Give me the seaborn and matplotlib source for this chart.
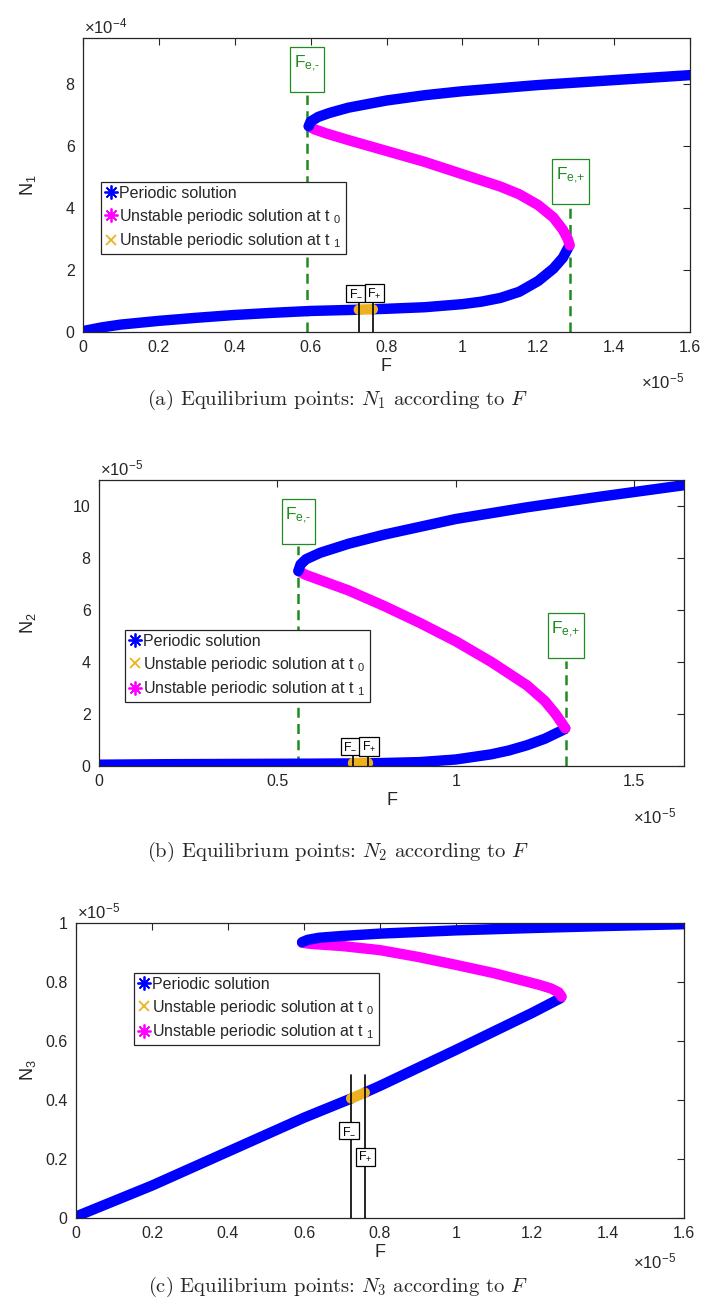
import numpy as np
import pandas as pd
import matplotlib
matplotlib.use("Agg")
import matplotlib.pyplot as plt
import seaborn as sns
from matplotlib.ticker import FuncFormatter, FixedLocator
from matplotlib.lines import Line2D

sns.set_style("white")
plt.rcParams['font.family'] = ['Liberation Sans', 'DejaVu Sans']
plt.rcParams['mathtext.fontset'] = 'custom'
plt.rcParams['mathtext.rm'] = 'Liberation Sans'
plt.rcParams['mathtext.it'] = 'Liberation Sans'

# ---------------- data ----------------
# Panel (a): N1 vs F   (F in 1e-5, N1 in 1e-4)
a_low_F = [0.0, 0.05, 0.1, 0.2, 0.3, 0.4, 0.5, 0.6, 0.727]
a_low_N = [0.03, 0.15, 0.24, 0.36, 0.46, 0.55, 0.62, 0.68, 0.72]
a_orange_F = [0.727, 0.745, 0.764]
a_orange_N = [0.72, 0.73, 0.735]
a_low2_F = [0.764, 0.8, 0.9, 1.0, 1.05, 1.1, 1.15, 1.2, 1.24, 1.265, 1.28]
a_low2_N = [0.735, 0.75, 0.8, 0.9, 0.98, 1.1, 1.3, 1.65, 2.05, 2.4, 2.75]
a_mid_F = [1.283, 1.278, 1.265, 1.24, 1.2, 1.15, 1.1, 1.0, 0.9, 0.8, 0.7, 0.64, 0.61, 0.595]
a_mid_N = [2.8, 3.0, 3.3, 3.7, 4.1, 4.45, 4.7, 5.1, 5.5, 5.85, 6.2, 6.42, 6.55, 6.65]
a_up_F = [0.595, 0.6, 0.62, 0.65, 0.7, 0.8, 0.9, 1.0, 1.2, 1.4, 1.6]
a_up_N = [6.65, 6.8, 6.95, 7.08, 7.25, 7.48, 7.65, 7.78, 7.98, 8.14, 8.3]
a_Fe = [0.59, 1.285]
a_Fpm = [0.727, 0.764]

# Panel (b): N2 vs F   (F in 1e-5, N2 in 1e-5)
b_low_F = [0.0, 0.2, 0.4, 0.6, 0.713]
b_low_N = [0.05, 0.07, 0.08, 0.09, 0.1]
b_orange_F = [0.713, 0.733, 0.753]
b_orange_N = [0.1, 0.1, 0.1]
b_low2_F = [0.753, 0.9, 1.0, 1.1, 1.15, 1.2, 1.25, 1.28, 1.3, 1.307]
b_low2_N = [0.1, 0.15, 0.25, 0.45, 0.6, 0.8, 1.05, 1.25, 1.38, 1.45]
b_mid_F = [1.307, 1.3, 1.28, 1.25, 1.2, 1.1, 1.0, 0.9, 0.8, 0.7, 0.62, 0.58, 0.559]
b_mid_N = [1.45, 1.6, 2.0, 2.5, 3.1, 4.0, 4.8, 5.5, 6.15, 6.75, 7.15, 7.35, 7.5]
b_up_F = [0.559, 0.565, 0.58, 0.62, 0.7, 0.8, 1.0, 1.2, 1.4, 1.64]
b_up_N = [7.5, 7.75, 7.95, 8.2, 8.55, 8.9, 9.5, 9.95, 10.35, 10.8]
b_Fe = [0.559, 1.309]
b_Fpm = [0.713, 0.753]

# Panel (c): N3 vs F   (F in 1e-5, N3 in 1e-5)
c_low_F = [0.0, 0.2, 0.4, 0.6, 0.724]
c_low_N = [0.005, 0.11, 0.225, 0.34, 0.405]
c_orange_F = [0.724, 0.742, 0.76]
c_orange_N = [0.405, 0.415, 0.425]
c_low2_F = [0.76, 0.8, 1.0, 1.2, 1.275]
c_low2_N = [0.425, 0.448, 0.57, 0.695, 0.745]
c_mid_F = [1.278, 1.27, 1.25, 1.22, 1.1, 1.0, 0.9, 0.8, 0.7, 0.62, 0.595]
c_mid_N = [0.75, 0.765, 0.778, 0.79, 0.83, 0.858, 0.885, 0.908, 0.922, 0.929, 0.933]
c_up_F = [0.595, 0.61, 0.64, 0.7, 0.8, 1.0, 1.2, 1.4, 1.6]
c_up_N = [0.935, 0.943, 0.95, 0.956, 0.964, 0.975, 0.983, 0.99, 0.996]
c_Fpm = [0.724, 0.76]

x_ticks_a = [0, 0.2, 0.4, 0.6, 0.8, 1.0, 1.2, 1.4, 1.6]
y_ticks_a = [0, 2, 4, 6, 8]
x_ticks_b = [0, 0.5, 1.0, 1.5]
y_ticks_b = [0, 2, 4, 6, 8, 10]
x_ticks_c = [0, 0.2, 0.4, 0.6, 0.8, 1.0, 1.2, 1.4, 1.6]
y_ticks_c = [0, 0.2, 0.4, 0.6, 0.8, 1.0]

captions = ["(a) Equilibrium points: $N_1$ according to $F$",
            "(b) Equilibrium points: $N_2$ according to $F$",
            "(c) Equilibrium points: $N_3$ according to $F$"]

BLUE = "#0000FF"
MAG = "#FF00FF"
ORANGE = "#EDB120"
GREEN = "#1E8C1E"
DARK = "#262626"
ASTER = (8, 2, 0)

W, H = 706, 1307
fig = plt.figure(figsize=(W / 100, H / 100), dpi=100)


def ax_at(l, r, t, b):
    return fig.add_axes([l / W, 1 - b / H, (r - l) / W, (b - t) / H])


def fmt(v, p):
    return "%g" % round(v, 6)


def style(ax, xt, yt, xlim, ylim, ylabel, ylab_x, pos):
    l, r, t, b = pos
    ax.set_xlim(*xlim)
    ax.set_ylim(*ylim)
    ax.xaxis.set_major_locator(FixedLocator(xt))
    ax.yaxis.set_major_locator(FixedLocator(yt))
    ax.xaxis.set_major_formatter(FuncFormatter(fmt))
    ax.yaxis.set_major_formatter(FuncFormatter(fmt))
    ax.tick_params(direction='in', top=True, right=True, length=5, width=0.8,
                   labelsize=11.5, colors=DARK, pad=6)
    for s in ax.spines.values():
        s.set_visible(True)
        s.set_color(DARK)
        s.set_linewidth(0.9)
    ax.set_xlabel("F", fontsize=13, color=DARK, labelpad=2)
    ax.set_ylabel(ylabel, fontsize=13, color=DARK)
    ax.yaxis.set_label_coords((ylab_x - l) / (r - l), 0.5)


def band(ax, F, N, color):
    df = pd.DataFrame({"F": F, "N": N})
    sns.lineplot(data=df, x="F", y="N", sort=False, estimator=None, color=color,
                 linewidth=7.5, ax=ax, solid_capstyle='round', legend=False)


def legend(ax, entries, x, y):
    handles = []
    for color, marker, label in entries:
        handles.append(Line2D([], [], linestyle='none', marker=ASTER if marker == '*' else 'x',
                              color=color, markersize=10 if marker == '*' else 7,
                              markeredgewidth=1.3, label=label))
    leg = ax.legend(handles=handles, loc='upper left',
                    bbox_to_anchor=(x / W, 1 - y / H), bbox_transform=fig.transFigure,
                    fontsize=11.5, frameon=True, fancybox=False, framealpha=1,
                    handlelength=0.7, handletextpad=0.2, borderpad=0.25,
                    labelspacing=0.35, borderaxespad=0)
    leg.get_frame().set_edgecolor(DARK)
    leg.get_frame().set_linewidth(0.9)


def fe_box(ax, F, y_line, y_box, label):
    ax.plot([F, F], [0, y_line], linestyle=(0, (4, 2.5)), color=GREEN, linewidth=1.8, zorder=1)
    ax.text(F, y_box, label + "\n ", color=GREEN, ha='center', va='center', fontsize=12.5,
            linespacing=0.95,
            bbox=dict(boxstyle='square,pad=0.2', fc='white', ec=GREEN, lw=0.9), zorder=6)


def fpm(ax, F, y0, y1, xb, y_box, label):
    ax.plot([F, F], [y0, y1], color='black', linewidth=1.2, zorder=5)
    ax.text(xb, y_box, label, color='black', ha='center', va='center', fontsize=9,
            bbox=dict(boxstyle='square,pad=0.2', fc='white', ec='black', lw=0.9), zorder=6)


def xmult(x, y, s):
    fig.text(x / W, 1 - y / H, r"$\times$10$^{%s}$" % s, fontsize=12, color=DARK,
             va='baseline')


label_p = "Periodic solution"
label_t0 = "Unstable periodic solution at t $_{0}$"
label_t1 = "Unstable periodic solution at t $_{1}$"
fe_minus = r"F$_{\text{e,-}}$"
fe_plus = r"F$_{\text{e,+}}$"

# ---------------- Panel (a) ----------------
pos = (83, 690, 38, 332)
ax = ax_at(*pos)
band(ax, a_low_F, a_low_N, BLUE)
band(ax, a_low2_F, a_low2_N, BLUE)
band(ax, a_mid_F, a_mid_N, MAG)
band(ax, a_up_F, a_up_N, BLUE)
band(ax, a_orange_F, a_orange_N, ORANGE)
fe_box(ax, a_Fe[0], 7.67, 8.43, fe_minus)
fe_box(ax, a_Fe[1], 4.1, 4.8, fe_plus)
fpm(ax, a_Fpm[0], 0, 1.0, a_Fpm[0] - 0.008, 1.25, "F$_{-}$")
fpm(ax, a_Fpm[1], 0, 1.0, a_Fpm[1] + 0.004, 1.25, "F$_{+}$")
style(ax, x_ticks_a, y_ticks_a, (0, 1.6), (0, 9.5), "N$_1$", 38, pos)
legend(ax, [(BLUE, '*', label_p), (MAG, '*', label_t0), (ORANGE, 'x', label_t1)], 101, 182)
xmult(84, 33, "-4")
xmult(641, 388, "-5")

# ---------------- Panel (b) ----------------
pos = (99, 684, 480, 766)
ax = ax_at(*pos)
band(ax, b_low_F, b_low_N, BLUE)
band(ax, b_low2_F, b_low2_N, BLUE)
band(ax, b_mid_F, b_mid_N, MAG)
band(ax, b_up_F, b_up_N, BLUE)
band(ax, b_orange_F, b_orange_N, ORANGE)
fe_box(ax, b_Fe[0], 8.45, 9.35, fe_minus)
fe_box(ax, b_Fe[1], 4.05, 4.95, fe_plus)
fpm(ax, b_Fpm[0], 0, 0.5, b_Fpm[0] - 0.008, 0.75, "F$_{-}$")
fpm(ax, b_Fpm[1], 0, 0.5, b_Fpm[1] + 0.004, 0.75, "F$_{+}$")
style(ax, x_ticks_b, y_ticks_b, (0, 1.64), (0, 11), "N$_2$", 38, pos)
legend(ax, [(BLUE, '*', label_p), (ORANGE, 'x', label_t0), (MAG, '*', label_t1)], 125, 630)
xmult(100, 475, "-5")
xmult(633, 823, "-5")

# ---------------- Panel (c) ----------------
pos = (76, 684, 923, 1218)
ax = ax_at(*pos)
band(ax, c_low_F, c_low_N, BLUE)
band(ax, c_low2_F, c_low2_N, BLUE)
band(ax, c_mid_F, c_mid_N, MAG)
band(ax, c_up_F, c_up_N, BLUE)
band(ax, c_orange_F, c_orange_N, ORANGE)
fpm(ax, c_Fpm[0], 0, 0.485, c_Fpm[0] - 0.006, 0.295, "F$_{-}$")
fpm(ax, c_Fpm[1], 0, 0.485, c_Fpm[1] + 0.002, 0.207, "F$_{+}$")
style(ax, x_ticks_c, y_ticks_c, (0, 1.6), (0, 1.0), "N$_3$", 38, pos)
legend(ax, [(BLUE, '*', label_p), (ORANGE, 'x', label_t0), (MAG, '*', label_t1)], 134, 973)
xmult(77, 918, "-5")
xmult(633, 1268, "-5")

# ---------------- captions ----------------
for cap, yc in zip(captions, [400, 852, 1287]):
    fig.text(338 / W, 1 - yc / H, cap, ha='center', va='center', fontsize=14.8,
             family='cmr10', math_fontfamily='cm')

fig.savefig("out.png", dpi=100)
